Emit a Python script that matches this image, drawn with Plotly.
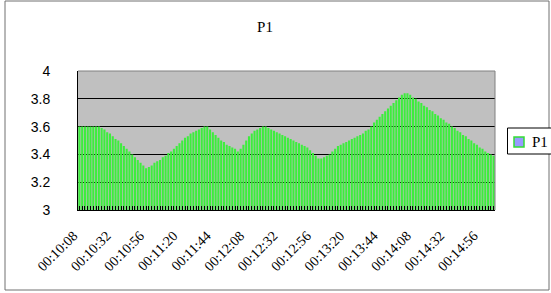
import plotly.graph_objects as go

# 2-second samples from 00:10:08 to 00:15:06
start_sec = 10 * 60 + 8
n_bars = 150
categories = []
for k in range(n_bars):
    s = start_sec + 2 * k
    categories.append("00:%02d:%02d" % (s // 60, s % 60))

values = [
    3.60, 3.60, 3.60, 3.60, 3.60, 3.60, 3.60, 3.60, 3.59, 3.58,
    3.56, 3.55, 3.53, 3.51, 3.50, 3.48, 3.46, 3.44, 3.42, 3.40,
    3.38, 3.36, 3.34, 3.32, 3.30, 3.31, 3.32, 3.34, 3.35, 3.36,
    3.38, 3.39, 3.41, 3.42, 3.44, 3.46, 3.48, 3.50, 3.52, 3.53,
    3.55, 3.56, 3.57, 3.58, 3.59, 3.60, 3.60, 3.58, 3.56, 3.54,
    3.52, 3.50, 3.49, 3.47, 3.46, 3.45, 3.44, 3.42, 3.44, 3.47,
    3.50, 3.53, 3.55, 3.57, 3.58, 3.59, 3.60, 3.60, 3.59, 3.58,
    3.57, 3.56, 3.55, 3.54, 3.53, 3.52, 3.51, 3.50, 3.49, 3.48,
    3.47, 3.46, 3.45, 3.43, 3.41, 3.39, 3.37, 3.37, 3.38, 3.39,
    3.40, 3.42, 3.44, 3.46, 3.47, 3.48, 3.49, 3.50, 3.51, 3.52,
    3.53, 3.54, 3.55, 3.57, 3.58, 3.60, 3.63, 3.65, 3.67, 3.69,
    3.71, 3.73, 3.75, 3.77, 3.79, 3.81, 3.83, 3.84, 3.84, 3.83,
    3.81, 3.80, 3.78, 3.77, 3.75, 3.74, 3.72, 3.71, 3.69, 3.68,
    3.66, 3.65, 3.63, 3.62, 3.60, 3.59, 3.57, 3.56, 3.54, 3.53,
    3.51, 3.50, 3.48, 3.47, 3.45, 3.44, 3.42, 3.41, 3.40, 3.39,
]

tick_labels = ["00:10:08", "00:10:32", "00:10:56", "00:11:20", "00:11:44",
               "00:12:08", "00:12:32", "00:12:56", "00:13:20", "00:13:44",
               "00:14:08", "00:14:32", "00:14:56"]
y_ticks = [3, 3.2, 3.4, 3.6, 3.8, 4]
y_tick_text = ["3", "3.2", "3.4", "3.6", "3.8", "4"]
series_name = "P1"

tick_text_all = [c if c in tick_labels else "" for c in categories]

# plot area in pixels (for converting legend/border positions to paper coords)
PL, PR, PT, PB = 78, 495, 71, 210
W, H = 551, 293


def px(x):
    return (x - PL) / (PR - PL)


def py(y):
    return (PB - y) / (PB - PT)


fig = go.Figure()
fig.add_trace(go.Bar(
    x=categories, y=values, name=series_name,
    marker=dict(color="#3ded3d", line=dict(width=0)),
    showlegend=False,
))

fig.update_layout(
    width=W, height=H,
    margin=dict(l=PL, r=W - PR, t=PT, b=H - PB, autoexpand=False),
    paper_bgcolor="white",
    plot_bgcolor="#c0c0c0",
    bargap=0.25,
    showlegend=False,
    title=dict(text=series_name, x=265 / W, xanchor="center", y=1 - 27 / H,
               yanchor="middle",
               font=dict(family="Liberation Serif", size=15, color="black")),
    shapes=[
        # outer chart border
        dict(type="rect", xref="paper", yref="paper",
             x0=px(5), x1=px(549), y0=py(290), y1=py(1),
             line=dict(color="#707070", width=1), layer="below"),
        # plot area border top / right
        dict(type="line", xref="paper", yref="paper", x0=0, x1=1, y0=1, y1=1,
             line=dict(color="#808080", width=1)),
        dict(type="line", xref="paper", yref="paper", x0=1, x1=1, y0=0, y1=1,
             line=dict(color="#808080", width=1)),
        # legend box
        dict(type="rect", xref="paper", yref="paper",
             x0=px(507.5), x1=px(552), y0=py(154), y1=py(128),
             line=dict(color="black", width=1), fillcolor="white"),
        # legend swatch
        dict(type="rect", xref="paper", yref="paper",
             x0=px(514), x1=px(524), y0=py(147), y1=py(137),
             line=dict(color="#33dd33", width=1.5), fillcolor="#9999ff"),
    ],
    annotations=[
        dict(text=series_name, xref="paper", yref="paper",
             x=px(530), y=py(141.5), xanchor="left", yanchor="middle",
             showarrow=False,
             font=dict(family="Liberation Serif", size=15, color="black")),
    ],
)

fig.update_xaxes(
    type="category",
    tickmode="array", tickvals=categories, ticktext=tick_text_all,
    tickangle=-45,
    ticks="inside", ticklen=4, tickcolor="black", tickwidth=1,
    showline=True, linecolor="black", linewidth=1,
    showgrid=False, ticklabelstandoff=11, ticklabelshift=-6,
    tickfont=dict(family="Liberation Serif", size=14, color="black"),
)
fig.update_yaxes(
    range=[3, 4],
    tickmode="array", tickvals=y_ticks, ticktext=y_tick_text,
    showline=True, linecolor="black", linewidth=1,
    showgrid=True, gridcolor="black", gridwidth=1,
    ticks="", ticklabelstandoff=24,
    tickfont=dict(family="Liberation Sans", size=14, color="black"),
    zeroline=False,
)

fig.write_html("out.html",
               config={"displayModeBar": False},
               post_script="document.body.style.margin='0';document.body.style.overflow='hidden';")
